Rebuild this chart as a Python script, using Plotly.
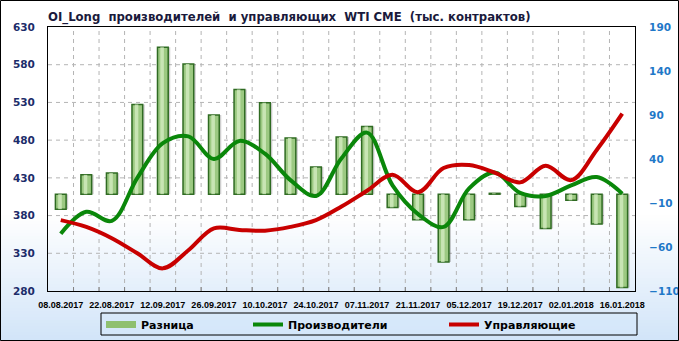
import plotly.graph_objects as go

dates = ["08.08.2017", "15.08.2017", "22.08.2017", "29.08.2017", "12.09.2017", "19.09.2017",
         "26.09.2017", "03.10.2017", "10.10.2017", "17.10.2017", "24.10.2017", "31.10.2017",
         "07.11.2017", "14.11.2017", "21.11.2017", "28.11.2017", "05.12.2017", "12.12.2017",
         "19.12.2017", "26.12.2017", "02.01.2018", "09.01.2018", "16.01.2018"]
producers = [356, 385, 373, 430, 476, 485, 455, 479, 462, 427, 406, 456,
             490, 420, 382, 365, 416, 437, 410, 406, 420, 431, 409]
managers = [374, 365, 350, 330, 310, 334, 363, 361, 360, 365, 374, 392,
            413, 434, 411, 443, 447, 437, 424, 446, 427, 467, 515]
difference = [-17, 22, 24, 102, 167, 148, 90, 119, 104, 64, 31, 65,
              77, -15, -29, -77, -29, 1, -14, -39, -7, -34, -106]

left_ticks = [280, 330, 380, 430, 480, 530, 580, 630]
right_ticks = [-110, -60, -10, 40, 90, 140, 190]

title_text = "OI_Long \u00a0производителей \u00a0и управляющих \u00a0WTI CME \u00a0(тыс. контрактов)"
names = ["Разница", "Производители", "Управляющие"]

W, H = 679, 341
L, R, T, B = 48, 635, 27, 291
pw, ph = R - L, B - T

def px(x):
    return (x - L) / pw

def py(y):
    return (B - y) / ph

idx = list(range(len(dates)))
xr = [-0.5, len(dates) - 0.5]
yr_right = [-110, 190]
yr_left = [280, 630]

fig = go.Figure()

# ---- grid: dashed lines built from short solid segments (hidden main axis y, range 0..1) ----
dash_px = 4.0
gx, gy = [], []
step_y = dash_px / ph
for i in idx[:-1]:
    s = 0.0
    while s < 1:
        gx += [i + 0.5, i + 0.5, None]
        gy += [s, min(s + step_y, 1), None]
        s += 2 * step_y
step_x = dash_px * (xr[1] - xr[0]) / pw
for v in left_ticks[1:-1]:
    f = (v - yr_left[0]) / (yr_left[1] - yr_left[0])
    s = xr[0]
    while s < xr[1]:
        gx += [s, min(s + step_x, xr[1]), None]
        gy += [f, f, None]
        s += 2 * step_x
fig.add_trace(go.Scatter(x=gx, y=gy, mode="lines", line=dict(color="#b4b4b4", width=1),
                         yaxis="y", showlegend=False, hoverinfo="skip"))
tx, ty = [], []
for i in idx[:-1]:
    tx += [i + 0.5, i + 0.5, None]
    ty += [0, 4 / ph, None]
fig.add_trace(go.Scatter(x=tx, y=ty, mode="lines", line=dict(color="#808080", width=1),
                         yaxis="y", showlegend=False, hoverinfo="skip"))

# ---- bars (right axis y2) ----
fig.add_trace(go.Bar(x=idx, y=difference, width=0.42, offset=-0.13,
                     marker=dict(color="rgba(60,60,60,0.25)", line=dict(width=0)),
                     yaxis="y2", showlegend=False, hoverinfo="skip"))
fig.add_trace(go.Bar(x=idx, y=difference, width=0.42, offset=-0.21,
                     marker=dict(color="#9cc982", line=dict(color="#2f6b22", width=1.5)),
                     yaxis="y2", showlegend=False, name=names[0]))
fig.add_trace(go.Bar(x=idx, y=difference, width=0.14, offset=-0.1,
                     marker=dict(color="rgba(215,238,196,0.75)", line=dict(width=0)),
                     yaxis="y2", showlegend=False, hoverinfo="skip"))

# ---- lines (left axis y3) ----
fig.add_trace(go.Scatter(x=idx, y=producers, mode="lines", line=dict(color="#0a870a", width=4, shape="spline", smoothing=1.0),
                         yaxis="y3", name=names[1], legend="legend2"))
fig.add_trace(go.Scatter(x=idx, y=managers, mode="lines", line=dict(color="#c80000", width=4, shape="spline", smoothing=1.0),
                         yaxis="y3", name=names[2], legend="legend3"))
fig.add_trace(go.Scatter(x=[None], y=[None], mode="lines", line=dict(color="#8fc06f", width=7),
                         yaxis="y3", name=names[0], legend="legend"))

shapes = []
top_g, bot_g = 215, 341
n = 42
for i in range(n):
    y0 = top_g + (bot_g - top_g) * i / n
    y1 = top_g + (bot_g - top_g) * (i + 1) / n + 0.6
    t = (i + 0.5) / n
    r = int(255 + (210 - 255) * t)
    g = int(255 + (229 - 255) * t)
    b = int(255 + (249 - 255) * t)
    shapes.append(dict(type="rect", xref="paper", yref="paper", x0=px(0), x1=px(W), y0=py(y1), y1=py(y0),
                       fillcolor=f"rgb({r},{g},{b})", line=dict(width=0), layer="below"))
shapes.append(dict(type="rect", xref="paper", yref="paper", x0=px(101), x1=px(637), y0=py(335), y1=py(313),
                   fillcolor="rgba(214,232,250,0.6)", line=dict(color="black", width=1), layer="below"))
shapes.append(dict(type="rect", xref="paper", yref="paper", x0=px(0.5), x1=px(W - 0.5), y0=py(H - 0.5), y1=py(0.5),
                   line=dict(color="black", width=1), fillcolor="rgba(0,0,0,0)", layer="above"))

leg_font = dict(family="DejaVu Sans", size=11, color="black", weight="bold")

def legend_at(xpix):
    return dict(x=px(xpix), xanchor="left", y=py(324.5), yanchor="middle", orientation="h",
                bgcolor="rgba(0,0,0,0)", borderwidth=0, font=leg_font, itemwidth=30)

fig.update_layout(
    width=W, height=H,
    margin=dict(l=L, r=W - R, t=T, b=H - B, pad=0, autoexpand=False),
    paper_bgcolor="white", plot_bgcolor="rgba(0,0,0,0)",
    title=dict(text=title_text, x=px(48), xref="paper", xanchor="left", y=1 - 17 / H, yref="container",
               yanchor="middle", font=dict(family="DejaVu Sans", size=11.7, color="#1a1a3c", weight="bold")),
    barmode="overlay",
    xaxis=dict(range=xr, tickvals=idx[::2], ticktext=dates[::2], showgrid=False,
               ticks="", showline=True, linecolor="black", linewidth=1, mirror=True, zeroline=False,
               ticklabelstandoff=5,
               tickfont=dict(family="Liberation Sans", size=9, color="black", weight="bold")),
    yaxis=dict(range=[0, 1], visible=False, showgrid=False, zeroline=False),
    yaxis2=dict(side="right", overlaying="y", range=yr_right, tickvals=right_ticks, showgrid=False, zeroline=False,
                showline=True, linecolor="black", ticks="", ticklabelstandoff=11,
                tickfont=dict(family="DejaVu Sans", size=10.5, color="#1f78c8", weight="bold")),
    yaxis3=dict(side="left", overlaying="y", range=yr_left, tickvals=left_ticks, showgrid=False,
                zeroline=False, ticks="", ticklabelstandoff=10,
                showline=True, linecolor="black",
                tickfont=dict(family="DejaVu Sans", size=10.5, color="#1c2c6a", weight="bold")),
    legend=legend_at(101),
    legend2=legend_at(248),
    legend3=legend_at(444),
    shapes=shapes,
)

fig.write_html("out.html")
